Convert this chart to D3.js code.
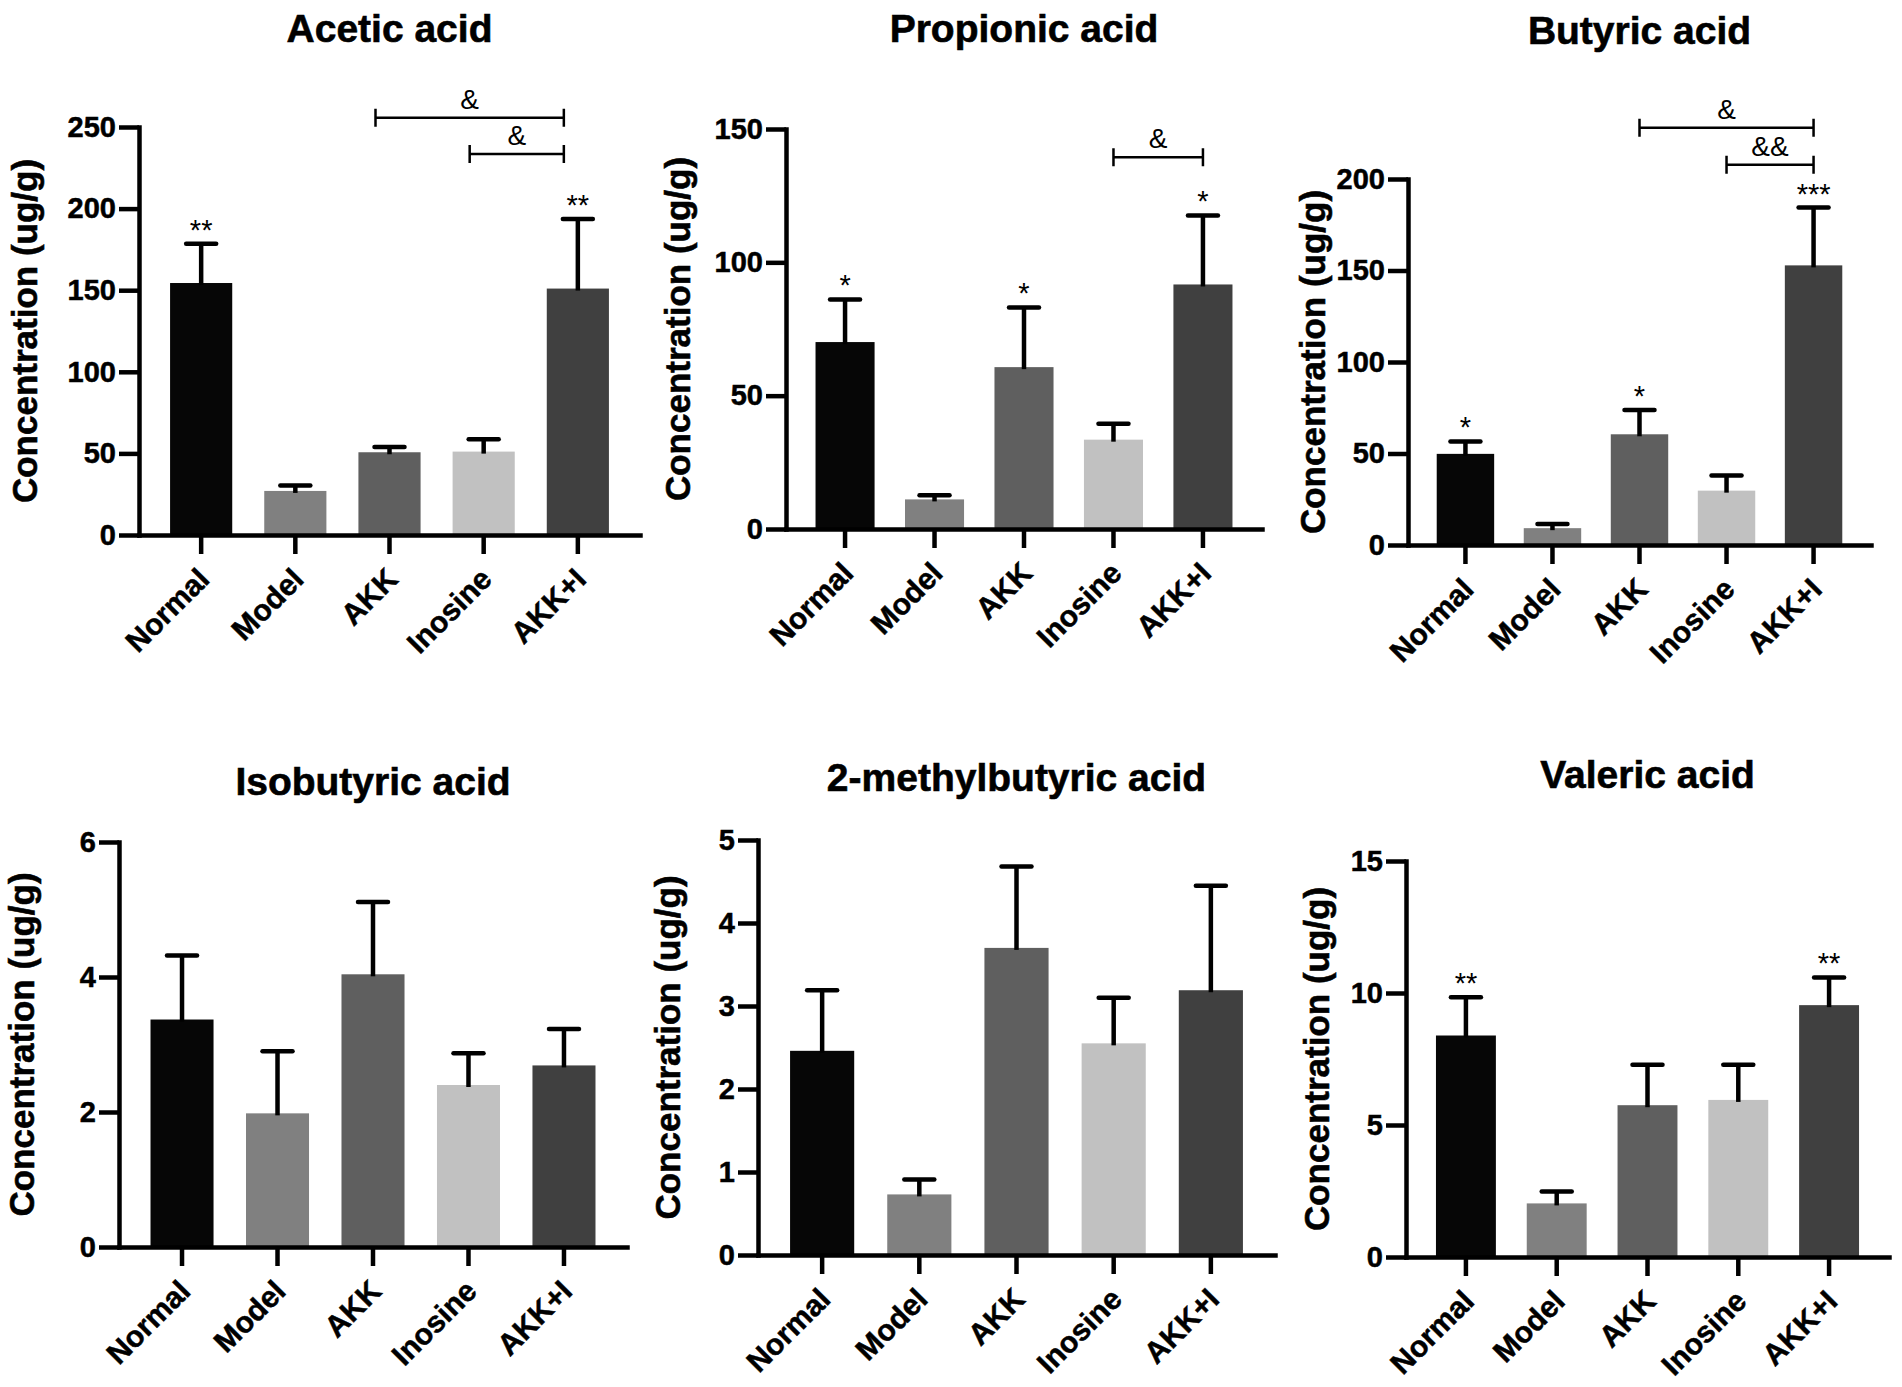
<!DOCTYPE html>
<html>
<head>
<meta charset="utf-8">
<script src="https://cdn.jsdelivr.net/npm/d3@7"></script>
<style>
  body { margin: 0; background: #fff; }
  svg { display: block; font-family: "Liberation Sans", Arial, sans-serif; }
</style>
</head>
<body>
<div id="chart"></div>
<script>
// groups on the x axis, same in every panel
var groups = ["Normal", "Model", "AKK", "Inosine", "AKK+I"];
var barColors = ["#060606", "#808080", "#5f5f5f", "#c1c1c1", "#404040"];

var titles = ["Acetic acid", "Propionic acid", "Butyric acid",
              "Isobutyric acid", "2-methylbutyric acid", "Valeric acid"];

// means and SEM (upper error), ug/g
var aceticMean = [154.4, 27.0, 50.7, 51.1, 151.0];
var aceticSem  = [24.0, 3.3, 3.2, 7.6, 42.7];
var propionicMean = [70.1, 11.1, 60.7, 33.5, 91.7];
var propionicSem  = [16.0, 1.6, 22.4, 6.0, 25.9];
var butyricMean = [49.8, 9.2, 60.5, 29.7, 152.8];
var butyricSem  = [6.8, 2.3, 13.3, 8.3, 31.6];
var isobutyricMean = [3.37, 1.98, 4.04, 2.40, 2.69];
var isobutyricSem  = [0.95, 0.92, 1.07, 0.47, 0.54];
var methylbutyricMean = [2.46, 0.73, 3.70, 2.55, 3.19];
var methylbutyricSem  = [0.73, 0.18, 0.98, 0.55, 1.26];
var valericMean = [8.39, 2.03, 5.75, 5.95, 9.54];
var valericSem  = [1.45, 0.45, 1.53, 1.33, 1.05];

// y tick values per panel
var aceticTicks = [0, 50, 100, 150, 200, 250];
var propionicTicks = [0, 50, 100, 150];
var butyricTicks = [0, 50, 100, 150, 200];
var isobutyricTicks = [0, 2, 4, 6];
var methylbutyricTicks = [0, 1, 2, 3, 4, 5];
var valericTicks = [0, 5, 10, 15];

// significance vs model
var aceticStars = ["**", "", "", "", "**"];
var propionicStars = ["*", "", "*", "", "*"];
var butyricStars = ["*", "", "*", "", "***"];
var noStars = ["", "", "", "", ""];
var valericStars = ["**", "", "", "", "**"];

// comparison brackets: [from, to, label, height in data units]
var aceticBrackets = [["AKK", "AKK+I", "&", 255.7], ["Inosine", "AKK+I", "&", 233.4]];
var propionicBrackets = [["Inosine", "AKK+I", "&", 139.4]];
var butyricBrackets = [["AKK", "AKK+I", "&", 228], ["Inosine", "AKK+I", "&&", 207.8]];

var panels = [
    {title: titles[0], mean: aceticMean, sem: aceticSem, ticks: aceticTicks, stars: aceticStars, brackets: aceticBrackets},
    {title: titles[1], mean: propionicMean, sem: propionicSem, ticks: propionicTicks, stars: propionicStars, brackets: propionicBrackets},
    {title: titles[2], mean: butyricMean, sem: butyricSem, ticks: butyricTicks, stars: butyricStars, brackets: butyricBrackets},
    {title: titles[3], mean: isobutyricMean, sem: isobutyricSem, ticks: isobutyricTicks, stars: noStars, brackets: []},
    {title: titles[4], mean: methylbutyricMean, sem: methylbutyricSem, ticks: methylbutyricTicks, stars: noStars, brackets: []},
    {title: titles[5], mean: valericMean, sem: valericSem, ticks: valericTicks, stars: valericStars, brackets: []}
];

// plot frames in page pixels
var frames = [
    {x0: 139, x1: 640, top: 127, zero: 535, labelX: 28, titleY: 42, shift: -14},
    {x0: 786, x1: 1262, top: 129, zero: 529, labelX: 681, titleY: 42, shift: 0},
    {x0: 1408, x1: 1871, top: 179, zero: 545, labelX: 1316, titleY: 44, shift: 0},
    {x0: 119, x1: 627, top: 842, zero: 1247, labelX: 25, titleY: 795, shift: 0},
    {x0: 758, x1: 1275, top: 840, zero: 1255, labelX: 671, titleY: 791, shift: 0},
    {x0: 1406, x1: 1889, top: 861, zero: 1257, labelX: 1320, titleY: 788, shift: 0}
];

var W = 1902, H = 1387;
var svg = d3.select("#chart").append("svg")
    .attr("width", W)
    .attr("height", H);

panels.forEach(function(p, k){
    var f = frames[k];
    var g = svg.append("g");

    var x = d3.scaleBand()
        .domain(groups)
        .range([f.x0, f.x1])
        .paddingInner(0.34)
        .paddingOuter(0.33);

    var y = d3.scaleLinear()
        .domain([0, d3.max(p.ticks)])
        .range([f.zero, f.top]);

    // title
    g.append("text")
        .attr("x", (f.x0 + f.x1) / 2)
        .attr("y", f.titleY)
        .attr("text-anchor", "middle")
        .attr("font-size", "39px")
        .attr("font-weight", "bold")
        .attr("stroke", "#000")
        .attr("stroke-width", 0.6)
        .text(p.title);

    // y axis label
    g.append("text")
        .attr("transform", "translate(" + (f.labelX + 9) + "," + ((f.top + f.zero) / 2) + ") rotate(-90)")
        .attr("text-anchor", "middle")
        .attr("font-size", "35px")
        .attr("font-weight", "bold")
        .attr("stroke", "#000")
        .attr("stroke-width", 0.6)
        .text("Concentration (ug/g)");

    // bars
    g.selectAll(".bar")
        .data(p.mean)
        .enter()
        .append("rect")
        .attr("class", "bar")
        .attr("x", function(d, i){ return x(groups[i]); })
        .attr("y", function(d){ return y(d); })
        .attr("width", x.bandwidth())
        .attr("height", function(d){ return y(0) - y(d); })
        .attr("fill", function(d, i){ return barColors[i]; });

    // error bars (upper only)
    var cx = function(i){ return x(groups[i]) + x.bandwidth() / 2; };
    g.selectAll(".err")
        .data(p.mean)
        .enter()
        .append("line")
        .attr("class", "err")
        .attr("x1", function(d, i){ return cx(i); })
        .attr("x2", function(d, i){ return cx(i); })
        .attr("y1", function(d){ return y(d) + 2; })
        .attr("y2", function(d, i){ return y(d + p.sem[i]); })
        .attr("stroke", "#000")
        .attr("stroke-width", 4.5);

    g.selectAll(".cap")
        .data(p.mean)
        .enter()
        .append("line")
        .attr("class", "cap")
        .attr("x1", function(d, i){ return cx(i) - 15; })
        .attr("x2", function(d, i){ return cx(i) + 15; })
        .attr("y1", function(d, i){ return y(d + p.sem[i]); })
        .attr("y2", function(d, i){ return y(d + p.sem[i]); })
        .attr("stroke", "#000")
        .attr("stroke-width", 4.5)
        .attr("stroke-linecap", "round");

    // stars
    g.selectAll(".star")
        .data(p.stars)
        .enter()
        .append("text")
        .attr("class", "star")
        .attr("x", function(d, i){ return cx(i); })
        .attr("y", function(d, i){ return y(p.mean[i] + p.sem[i]) - 4; })
        .attr("text-anchor", "middle")
        .attr("font-size", "29px")
        .text(function(d){ return d; });

    // brackets
    p.brackets.forEach(function(b){
        var xa = x(b[0]) + x.bandwidth() / 2 + f.shift;
        var xb = x(b[1]) + x.bandwidth() / 2 + f.shift;
        var yb = y(b[3]);
        g.append("path")
            .attr("d", "M" + xa + "," + (yb - 9) + "V" + (yb + 9) +
                       "M" + xa + "," + yb + "H" + xb +
                       "M" + xb + "," + (yb - 9) + "V" + (yb + 9))
            .attr("fill", "none")
            .attr("stroke", "#000")
            .attr("stroke-width", 2.5);
        g.append("text")
            .attr("x", (xa + xb) / 2)
            .attr("y", yb - 9)
            .attr("text-anchor", "middle")
            .attr("font-size", "28px")
            .text(b[2]);
    });

    // axes
    var yAxis = g.append("g")
        .attr("transform", "translate(" + f.x0 + ",0)")
        .call(d3.axisLeft(y).tickValues(p.ticks).tickFormat(d3.format("d"))
              .tickSize(20).tickSizeOuter(0).tickPadding(3));

    var xAxis = g.append("g")
        .attr("transform", "translate(0," + f.zero + ")")
        .call(d3.axisBottom(x).tickSize(19).tickSizeOuter(0));

    xAxis.selectAll("text")
        .attr("x", 0)
        .attr("y", 0)
        .attr("dy", null)
        .attr("text-anchor", "end")
        .attr("transform", "translate(10,46) rotate(-45)");

    [yAxis, xAxis].forEach(function(a){
        a.attr("font-family", null);
        a.select(".domain")
            .attr("stroke", "#000")
            .attr("stroke-width", 4.5)
            .attr("stroke-linecap", "square");
        a.selectAll(".tick line")
            .attr("stroke", "#000")
            .attr("stroke-width", 4.5);
        a.selectAll("text")
            .attr("fill", "#000")
            .attr("stroke", "#000")
            .attr("stroke-width", 0.5)
            .attr("font-weight", "bold");
    });
    yAxis.selectAll("text").attr("font-size", "29px");
    xAxis.selectAll("text").attr("font-size", "30px");
});
</script>
</body>
</html>
